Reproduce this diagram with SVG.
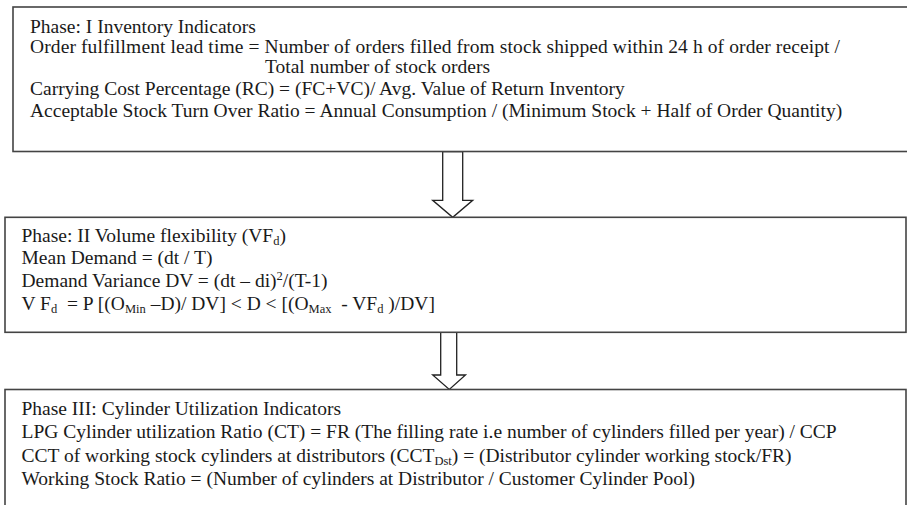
<svg xmlns="http://www.w3.org/2000/svg" width="907" height="505" viewBox="0 0 907 505">
<style>
.box{fill:#fff;stroke:#444;stroke-width:1.6}
.arr{fill:#fff;stroke:#222;stroke-width:1.3;stroke-linejoin:miter}
text{font-family:"Liberation Serif","Times New Roman",serif;font-size:19.5px;fill:#1a1a1a}
.sub{font-size:12.5px}
</style>
<rect width="907" height="505" fill="#fff"/>
<g id="connectors">
<polygon class="arr" points="442.7,151.5 462.7,151.5 462.7,200.3 472.7,200.3 452.7,217.3 432.7,200.3 442.7,200.3"/>
<polygon class="arr" points="440.7,332.3 456.7,332.3 456.7,375 465.5,375 449.3,389.5 432.7,375 440.7,375"/>
</g>
<g id="phase1">
<rect class="box" x="13" y="7" width="900" height="144.5"/>
<text x="30" y="33">Phase: I Inventory Indicators</text>
<text x="30" y="53" textLength="810" lengthAdjust="spacing">Order fulfillment lead time = Number of orders filled from stock shipped within 24 h of order receipt /</text>
<text x="265" y="73">Total number of stock orders</text>
<text x="30" y="95">Carrying Cost Percentage (RC) = (FC+VC)/ Avg. Value of Return Inventory</text>
<text x="30" y="117">Acceptable Stock Turn Over Ratio = Annual Consumption / (Minimum Stock + Half of Order Quantity)</text>
</g>
<g id="phase2">
<rect class="box" x="5" y="217.3" width="901" height="115"/>
<text x="21.5" y="242">Phase: II Volume flexibility (VF<tspan class="sub" dy="3">d</tspan><tspan dy="-3">)</tspan></text>
<text x="21.5" y="264">Mean Demand = (dt / T)</text>
<text x="21.5" y="287">Demand Variance DV = (dt – di)<tspan class="sub" dy="-7">2</tspan><tspan dy="7">/(T-1)</tspan></text>
<text x="21.5" y="310" xml:space="preserve">V F<tspan class="sub" dy="3">d</tspan><tspan dy="-3">  = P [(O</tspan><tspan class="sub" dy="3">Min</tspan><tspan dy="-3"> –D)/ DV] &lt; D &lt; [(O</tspan><tspan class="sub" dy="3">Max</tspan><tspan dy="-3">  - VF</tspan><tspan class="sub" dy="3">d</tspan><tspan dy="-3"> )/DV]</tspan></text>
</g>
<g id="phase3">
<rect class="box" x="5" y="389.5" width="901" height="130"/>
<text x="21.5" y="415">Phase III: Cylinder Utilization Indicators</text>
<text x="21.5" y="438">LPG Cylinder utilization Ratio (CT) = FR (The filling rate i.e number of cylinders filled per year) / CCP</text>
<text x="21.5" y="462">CCT of working stock cylinders at distributors (CCT<tspan class="sub" dy="3">Dst</tspan><tspan dy="-3">) = (Distributor cylinder working stock/FR)</tspan></text>
<text x="21.5" y="485">Working Stock Ratio = (Number of cylinders at Distributor / Customer Cylinder Pool)</text>
</g>
</svg>
